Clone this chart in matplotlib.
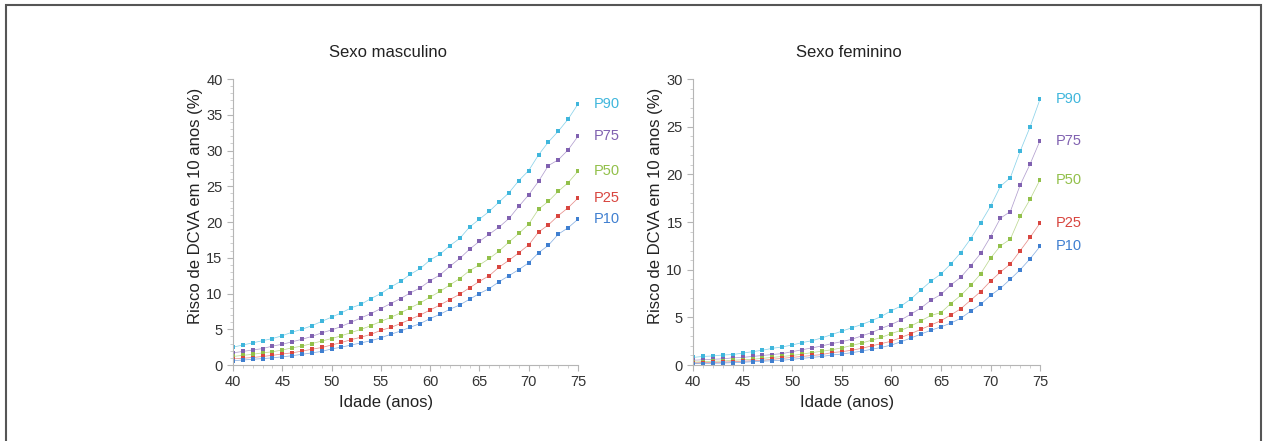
import numpy as np
import matplotlib.pyplot as plt
from matplotlib.patches import Rectangle
from matplotlib.ticker import MultipleLocator

plt.rcParams['font.family'] = ['Liberation Sans', 'DejaVu Sans']

# ============================================================================
# DATOS
# ============================================================================
idade = list(range(40, 76))
percentis = ['P90', 'P75', 'P50', 'P25', 'P10']
cores = ['#3fb6dc', '#8061b0', '#92c04a', '#d8453f', '#3f7fd0']

masc_p90 = [2.5, 2.8, 3.1, 3.4, 3.7, 4.1, 4.6, 5.0, 5.5, 6.1, 6.7, 7.3, 8.0, 8.5, 9.3, 10.0, 10.9, 11.7,
            12.7, 13.5, 14.7, 15.5, 16.7, 17.7, 19.3, 20.4, 21.5, 22.8, 24.1, 25.8, 27.2, 29.4, 31.2, 32.7, 34.4, 36.5]
masc_p75 = [1.7, 1.9, 2.1, 2.3, 2.65, 2.9, 3.25, 3.6, 4.0, 4.5, 4.9, 5.4, 6.0, 6.6, 7.2, 7.9, 8.6, 9.3,
            10.1, 10.8, 11.8, 12.6, 13.8, 14.9, 16.2, 17.3, 18.3, 19.3, 20.5, 22.2, 23.8, 25.7, 27.9, 28.7, 30.1, 32.0]
masc_p50 = [1.2, 1.35, 1.5, 1.7, 1.85, 2.1, 2.4, 2.65, 3.0, 3.35, 3.7, 4.1, 4.55, 5.0, 5.5, 6.1, 6.65, 7.3,
            8.0, 8.7, 9.5, 10.3, 11.2, 12.1, 13.2, 14.0, 14.9, 15.95, 17.2, 18.4, 19.7, 21.8, 22.9, 24.3, 25.5, 27.1]
masc_p25 = [0.85, 0.95, 1.05, 1.2, 1.35, 1.55, 1.7, 1.95, 2.2, 2.45, 2.8, 3.15, 3.55, 3.9, 4.3, 4.85, 5.25, 5.8,
            6.4, 7.0, 7.7, 8.4, 9.15, 9.9, 10.8, 11.7, 12.5, 13.7, 14.65, 15.7, 16.8, 18.6, 19.6, 20.9, 22.0, 23.35]
masc_p10 = [0.6, 0.7, 0.8, 0.9, 1.0, 1.15, 1.3, 1.5, 1.7, 1.9, 2.25, 2.5, 2.8, 3.1, 3.4, 3.8, 4.3, 4.75,
            5.3, 5.8, 6.5, 7.1, 7.8, 8.4, 9.2, 10.0, 10.7, 11.65, 12.5, 13.35, 14.3, 15.7, 16.75, 18.3, 19.2, 20.4]

fem_p90 = [0.8, 0.9, 0.95, 1.05, 1.1, 1.25, 1.4, 1.55, 1.75, 1.9, 2.1, 2.35, 2.55, 2.85, 3.2, 3.55, 3.9, 4.25,
           4.65, 5.1, 5.7, 6.2, 6.95, 7.9, 8.8, 9.55, 10.6, 11.8, 13.25, 14.9, 16.65, 18.75, 19.65, 22.45, 25.0, 27.9]
fem_p75 = [0.5, 0.55, 0.6, 0.65, 0.75, 0.8, 0.9, 1.0, 1.1, 1.2, 1.4, 1.6, 1.8, 2.0, 2.25, 2.45, 2.7, 3.05,
           3.4, 3.85, 4.25, 4.75, 5.35, 6.0, 6.8, 7.4, 8.4, 9.2, 10.4, 11.7, 13.45, 15.4, 16.1, 18.9, 21.1, 23.55]
fem_p50 = [0.3, 0.35, 0.4, 0.42, 0.5, 0.55, 0.6, 0.7, 0.8, 0.9, 1.0, 1.15, 1.3, 1.45, 1.6, 1.8, 2.05, 2.3,
           2.6, 2.9, 3.3, 3.65, 4.1, 4.65, 5.2, 5.5, 6.45, 7.3, 8.35, 9.55, 11.2, 12.5, 13.2, 15.6, 17.4, 19.45]
fem_p25 = [0.2, 0.25, 0.28, 0.3, 0.35, 0.4, 0.45, 0.5, 0.6, 0.7, 0.8, 0.9, 1.0, 1.1, 1.3, 1.4, 1.55, 1.75,
           2.0, 2.25, 2.5, 2.9, 3.3, 3.75, 4.2, 4.65, 5.25, 5.9, 6.8, 7.7, 8.8, 9.75, 10.6, 12.0, 13.4, 14.9]
fem_p10 = [0.15, 0.15, 0.18, 0.2, 0.25, 0.28, 0.35, 0.4, 0.45, 0.5, 0.6, 0.7, 0.8, 0.9, 1.05, 1.15, 1.3, 1.45,
           1.65, 1.85, 2.1, 2.45, 2.85, 3.25, 3.65, 4.0, 4.4, 4.9, 5.65, 6.35, 7.3, 8.05, 9.0, 10.0, 11.15, 12.45]

masculino = [masc_p90, masc_p75, masc_p50, masc_p25, masc_p10]
feminino = [fem_p90, fem_p75, fem_p50, fem_p25, fem_p10]

# ============================================================================
# GRÁFICOS
# ============================================================================
fig = plt.figure(figsize=(12.67, 4.41), dpi=100)
# marco exterior (sin borde inferior visible)
fig.patches.append(Rectangle((6 / 1267, -0.05), 1255 / 1267, 436 / 441 + 0.05, transform=fig.transFigure,
                             fill=False, edgecolor='#555555', linewidth=1.5))

ax1 = fig.add_axes([0.1839, 0.1723, 0.2723, 0.6485])
ax2 = fig.add_axes([0.5470, 0.1723, 0.2739, 0.6485])

paineis = [(ax1, masculino, 'Sexo masculino', 40), (ax2, feminino, 'Sexo feminino', 30)]

for ax, series, titulo, ymax in paineis:
    for nome, valores, cor in zip(percentis, series, cores):
        ax.plot(idade, valores, color=cor, linewidth=0.55, alpha=0.6)
        ax.plot(idade, valores, 's', color=cor, markersize=2.5, markeredgewidth=0)
        ax.annotate(nome, (idade[-1], valores[-1]), xytext=(11, 0), textcoords='offset points',
                    color=cor, fontsize=10.5, va='center', ha='left', annotation_clip=False)
    ax.set_xlim(40, 75)
    ax.set_ylim(0, ymax)
    ax.xaxis.set_major_locator(MultipleLocator(5))
    ax.xaxis.set_minor_locator(MultipleLocator(1))
    ax.yaxis.set_major_locator(MultipleLocator(5))
    ax.yaxis.set_minor_locator(MultipleLocator(1))
    ax.spines['top'].set_visible(False)
    ax.spines['right'].set_visible(False)
    for s in ['left', 'bottom']:
        ax.spines[s].set_color('#b5b5b5')
        ax.spines[s].set_linewidth(0.8)
    ax.tick_params(which='major', length=4, color='#b5b5b5', labelsize=10.5, labelcolor='#333333')
    ax.tick_params(which='minor', length=2, color='#c8c8c8')
    ax.text(0.45, 1.094, titulo, transform=ax.transAxes, fontsize=12, color='#222222',
            ha='center', va='center')
    ax.set_xlabel('Idade (anos)', fontsize=12, color='#222222')
    ax.xaxis.set_label_coords(0.445, -0.105)
    ax.set_ylabel('Risco de DCVA em 10 anos (%)', fontsize=12, color='#222222')
    ax.yaxis.set_label_coords(-0.087, 0.556)

plt.savefig('out.png', dpi=100)
plt.close()
